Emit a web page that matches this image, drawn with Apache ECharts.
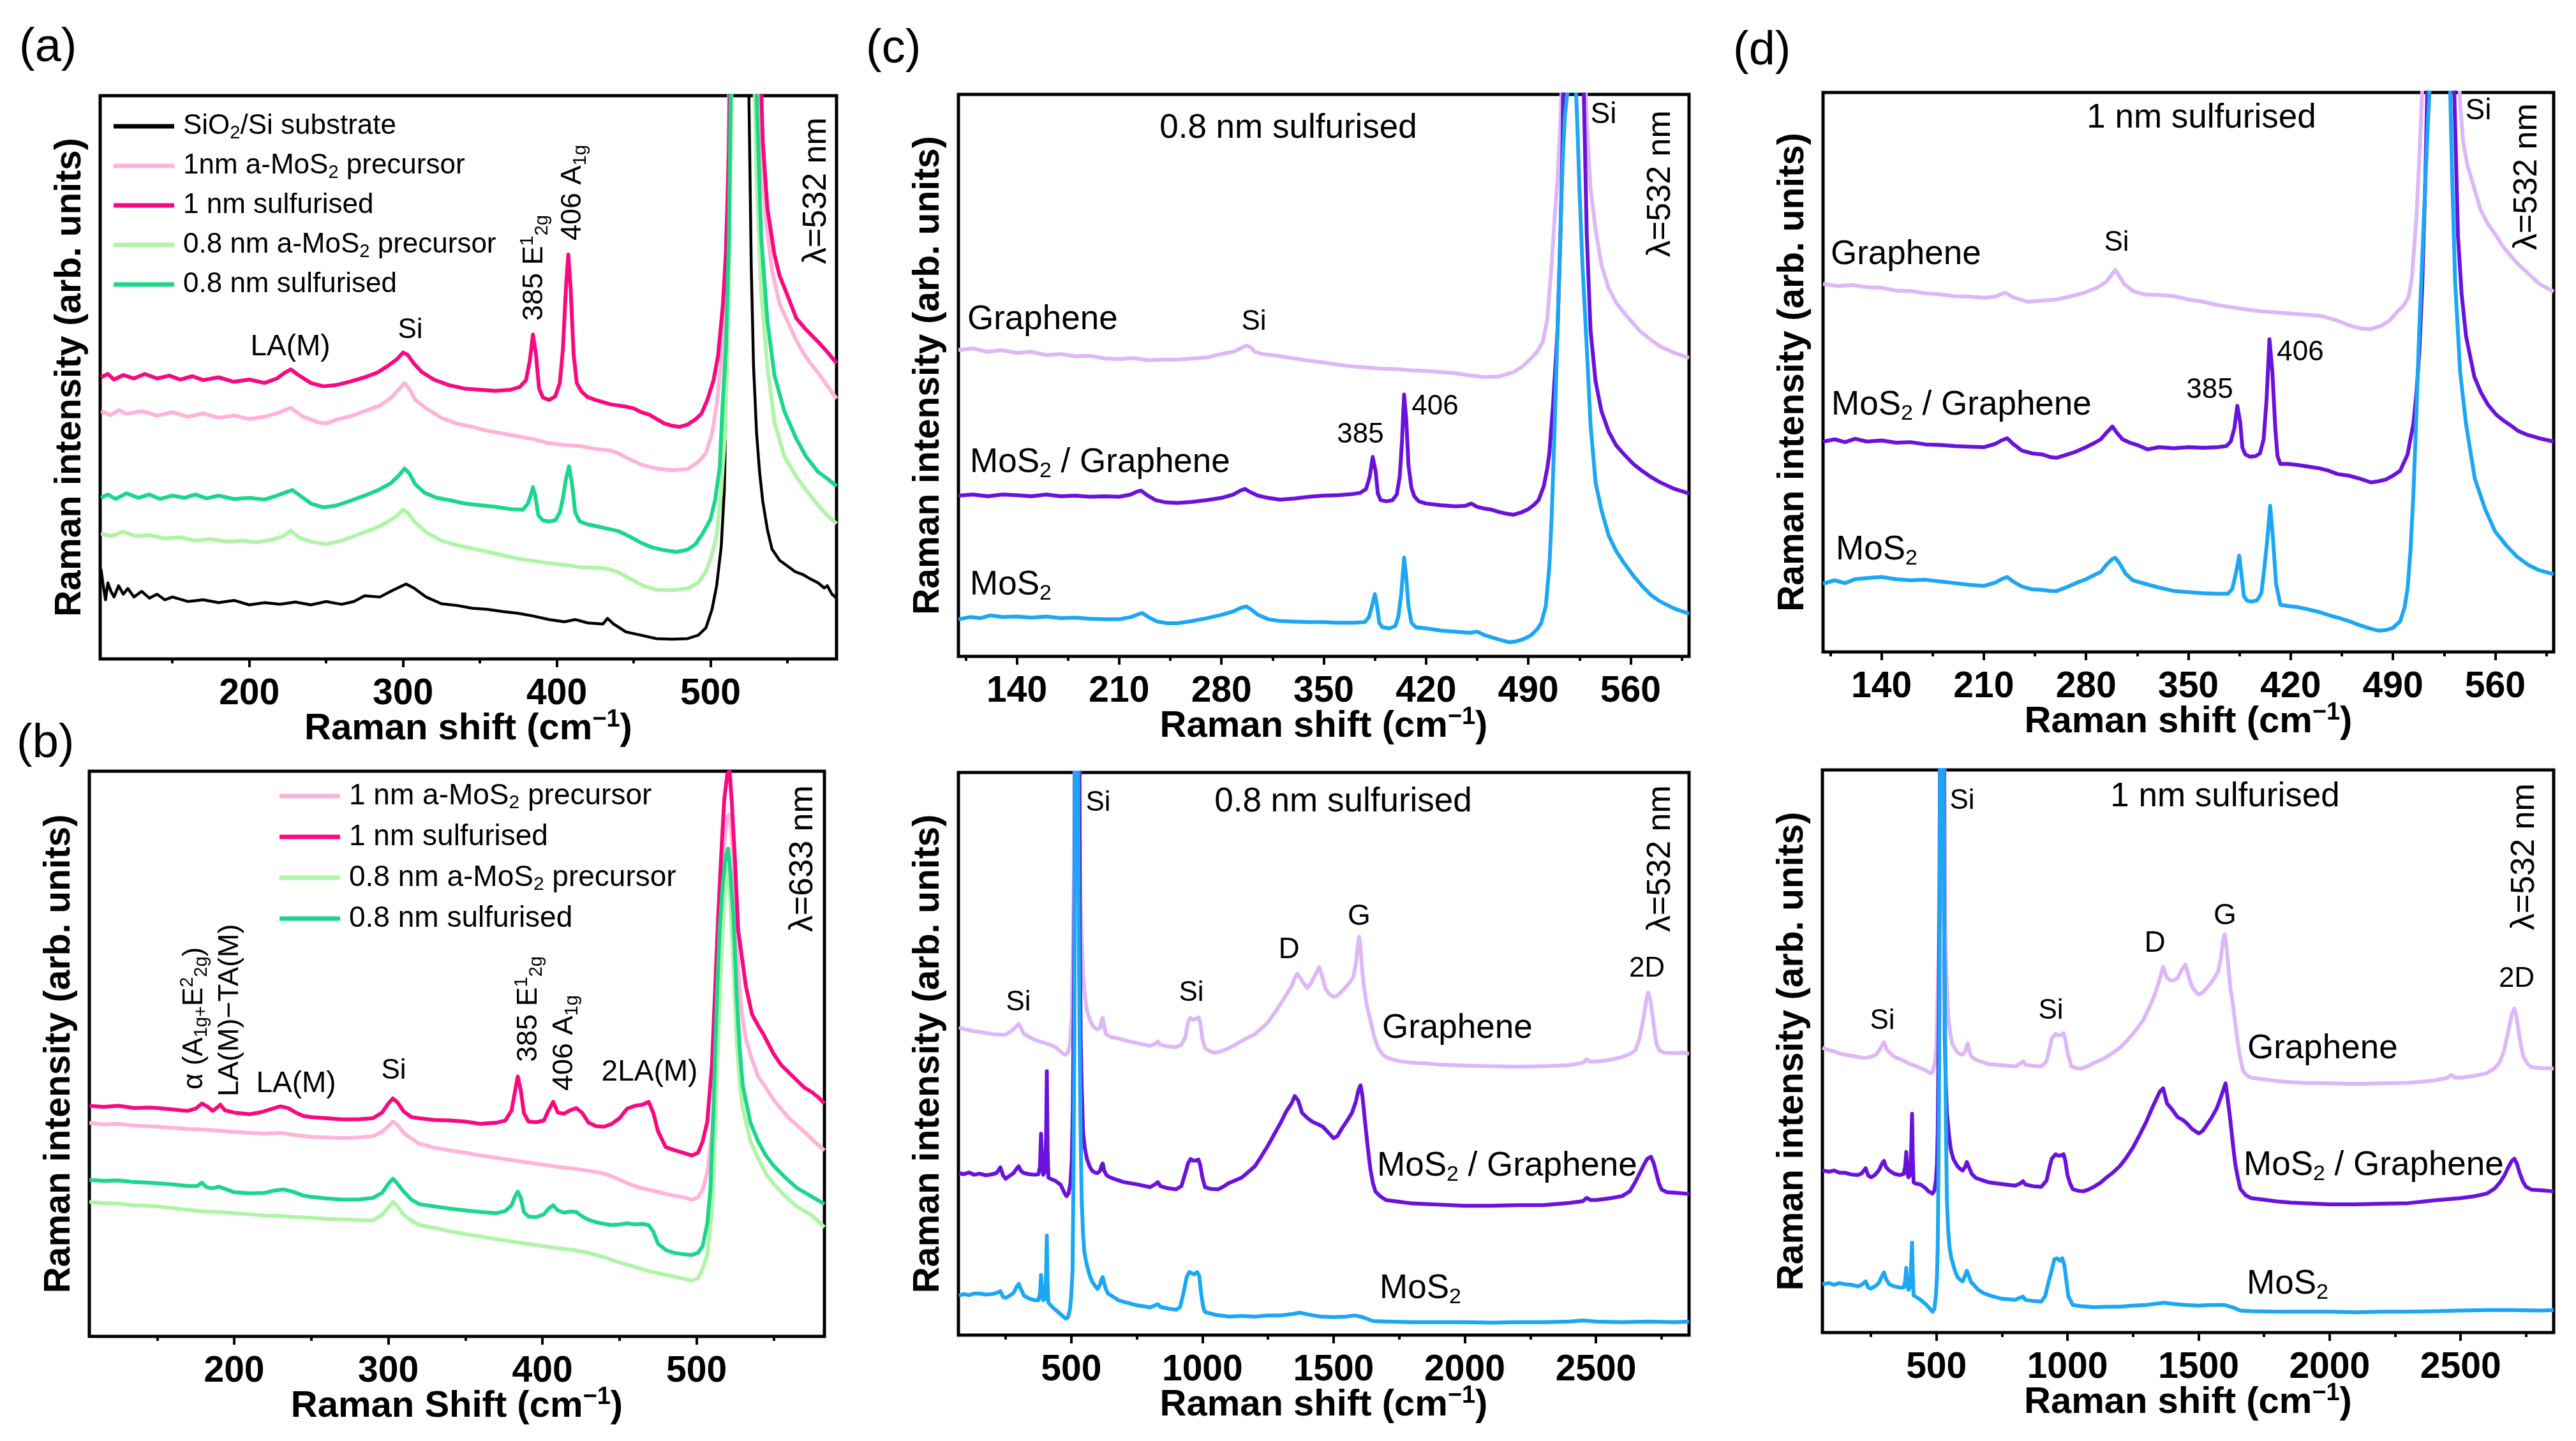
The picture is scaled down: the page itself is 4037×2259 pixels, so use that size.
<!DOCTYPE html>
<html><head><meta charset="utf-8">
<script src="https://cdn.jsdelivr.net/npm/echarts@6/dist/echarts.min.js"></script>
<style>html,body{margin:0;padding:0;background:#fff}#chart{width:4037px;height:2259px}</style>
</head><body><div id="chart"></div>
<script>
const FONT = '"Liberation Sans", Arial, Helvetica, sans-serif';

// ---------- tick values ----------
const ticksLow = [200, 300, 400, 500];
const minorLow = [150, 250, 350, 450, 550];
const ticksTop = [140, 210, 280, 350, 420, 490, 560];
const minorTop = [105, 175, 245, 315, 385, 455, 525, 595];
const ticksWide = [500, 1000, 1500, 2000, 2500];
const minorWide = [250, 750, 1250, 1750, 2250, 2750];

// ---------- legend names ----------
const namesA = ['SiO2/Si substrate', '1nm a-MoS2 precursor', '1 nm sulfurised', '0.8 nm a-MoS2 precursor', '0.8 nm sulfurised'];
const namesB = ['1 nm a-MoS2 precursor', '1 nm sulfurised', '0.8 nm a-MoS2 precursor', '0.8 nm sulfurised'];
const namesC = ['Graphene', 'MoS2 / Graphene', 'MoS2'];

// ---------- panel (a), lambda = 532 nm ----------
const a_substrate = [[103.5,16],[105,13],[106.5,10.5],[108,13.5],[110,12],[112,11],[115,13],[118,11.5],[121,12.5],[125,11],[130,12],[135,10.8],[140,11.5],[145,10.5],[150,11],[160,10.2],[170,10.5],[180,10],[190,10.4],[200,9.6],[210,10],[220,9.7],[230,10.1],[240,9.6],[250,10.2],[260,9.7],[268,10.2],[275,11.2],[285,11],[292,12],[298,12.8],[302,13.3],[307,12.6],[315,11],[325,9.8],[335,9.5],[345,9],[355,8.8],[365,8.4],[375,8.1],[385,7.6],[395,7],[405,6.6],[412,7],[420,6.4],[430,6.2],[433,7.2],[437,6.2],[445,4.8],[455,4.2],[465,3.6],[475,3.5],[485,3.6],[492,4.2],[497,5.5],[501,8.8],[504,13],[507,20],[509,30],[510.5,50],[512,70],[513.5,95],[515,140],[518,250],[521,300],[523.5,150],[525,100],[526.5,70],[528,52],[530,40],[532,33],[534,28],[537,23],[540,19.5],[545,17.5],[550,16.5],[555,15.5],[560,15],[565,14.2],[570,13.5],[574,12.6],[576,13],[579,11.5],[582,10.8]];
const a_prec1 = [[103.5,44],[110,43.3],[115,44.2],[120,43.5],[130,44],[140,43.2],[150,43.8],[160,43],[170,43.6],[180,42.8],[190,43.2],[200,42.6],[210,43],[220,43.8],[227,44.6],[235,43],[245,42],[250,41.8],[258,42.6],[265,43],[275,44],[285,45],[292,46.3],[297,47.8],[301,49],[304,48],[308,46],[315,44.5],[325,42.8],[335,41.8],[345,41.2],[355,40.5],[365,40],[375,39.5],[385,39],[395,38.3],[405,38],[415,37.8],[425,37.3],[435,37],[440,36.5],[447,35.5],[455,34.5],[465,33.8],[475,33.5],[485,33.7],[492,35],[497,36.5],[501,40],[504,45],[507,53],[509,62],[511,80],[513,120],[516,220],[522,300],[528,200],[531,110],[533,90],[536,78],[540,69],[545,63],[550,60],[555,57],[560,54.5],[565,52.5],[570,50.8],[576,48.5],[582,46.2]];
const a_sulf1 = [[103.5,50],[108,50.6],[112,49.6],[118,50.4],[125,49.8],[132,50.6],[140,49.8],[148,50.3],[155,49.6],[163,50.2],[170,49.5],[180,50],[190,49.2],[200,49.6],[210,49],[218,49.8],[223,50.8],[227,51.4],[232,50.4],[240,49],[248,48.4],[256,48.6],[265,49.2],[275,50],[283,50.8],[290,52],[296,53.2],[300,54.4],[303,54],[307,52.5],[312,51],[320,49.6],[330,48.6],[340,48],[350,47.8],[360,47.6],[370,47.8],[376,48.3],[380,49.5],[382.5,53],[384.5,57.6],[386.5,54],[388.5,48],[391,46.4],[395,46],[399,46.6],[402,49],[404,55],[406,66],[407.5,71.8],[409,66],[411,54],[413,49],[416,47.5],[420,46.5],[425,46],[430,45.6],[435,45.2],[440,45],[445,44.8],[450,44.5],[455,43.8],[460,43.4],[465,42.6],[470,41.8],[475,41.4],[480,41.2],[485,41.6],[490,42.5],[494,43.5],[498,46],[502,49.5],[505,54],[508,62.6],[510,72],[512,90],[514,130],[517,220],[525,300],[530,200],[532,110],[534,92],[537,80],[541.6,71.8],[545,68],[548.7,65.5],[555.8,60.5],[562,58.5],[570,56.3],[576,54.5],[582,52.5]];
const a_prec08 = [[103.5,22.3],[110,21.8],[118,22.6],[126,21.8],[135,22],[145,21.4],[155,21.6],[165,21],[175,21.3],[185,20.8],[195,21],[205,20.7],[215,21.2],[222,21.8],[227,22.8],[232,21.6],[240,20.8],[250,20.4],[260,21],[270,22],[280,23],[288,24],[295,25.2],[300,26.5],[303,26],[307,24.5],[315,22.5],[325,21],[335,20.2],[345,19.6],[355,19],[365,18.4],[375,17.8],[385,17.4],[395,17],[405,16.7],[415,16.3],[425,16.2],[433,16],[440,15.4],[448,14.2],[456,13],[465,12.3],[475,12.2],[485,12.5],[492,13.5],[497,15.5],[501,18.5],[504,22],[507,30],[509.5,40],[511.5,60],[513.5,95],[516,200],[521,300],[526,200],[528,110],[530,85],[533,65],[537,52],[541.6,42],[548,36],[555.8,32.4],[562,30],[570,27.3],[576,25.5],[582,24]];
const a_sulf08 = [[103.5,28.6],[108,29.2],[113,28.4],[120,29.4],[128,28.6],[135,29.2],[142,28.4],[150,29],[158,28.6],[165,29.2],[172,28.5],[180,29],[190,28.4],[200,28.6],[210,28.3],[218,29],[224,29.6],[228,30],[233,29],[240,27.6],[248,26.9],[256,27.2],[265,28],[275,29],[284,30],[292,31.2],[297,32.5],[301,33.8],[304,33],[308,31],[314,29.5],[322,28.6],[330,28.2],[340,27.6],[350,27.3],[360,27],[370,26.6],[378,26.5],[381,27.5],[383,29],[384.5,30.5],[386,29],[388,25.5],[391,24.6],[395,24.4],[399,24.6],[402,26],[404,28.5],[406,32],[408,34.2],[410,31],[412,26],[415,24.4],[420,23.9],[427,23.5],[435,23],[440,22.7],[447,21.8],[455,20.6],[462,19.8],[470,19.3],[478,19],[485,19.4],[490,20.3],[495,22.3],[500,24.8],[503,28.2],[506,34],[508,45.8],[510,55],[512,75],[514,120],[517,220],[523,300],[528,150],[530,100],[533,75],[537,60],[541.6,50.4],[548,44],[555.8,39.1],[562,36],[570,33.2],[576,32],[582,30.7]];

// ---------- panel (b), lambda = 633 nm ----------
const b_prec1 = [[106,37.8],[115,37.5],[125,37.6],[135,37.3],[145,37.2],[150,37.1],[160,36.9],[170,36.7],[180,36.6],[190,36.4],[200,36.2],[210,36],[220,35.9],[230,36],[240,35.6],[250,35.3],[260,35.2],[270,35.1],[280,35.2],[290,35.4],[296,36.2],[300,37.2],[303,38],[306,37.4],[310,36],[315,35],[320,34.1],[330,33.4],[340,32.9],[350,32.5],[360,32],[370,31.6],[380,31.2],[390,30.8],[400,30.4],[410,30],[420,29.7],[430,29.3],[440,28.8],[448,28],[455,27.1],[462,26.4],[470,25.9],[480,25.2],[490,24.7],[497,24.2],[501,24.6],[504,26],[507,29],[510,36],[512,44.4],[514,58],[516,72],[518,87],[520,92],[521.5,92.4],[523,88],[525,78],[527,65],[529.5,57],[532,52.6],[536,49],[540,46],[545,44],[550,41.9],[555,40.2],[560,38.6],[565,37.4],[570,36.2],[576,34.6],[583,32.9]];
const b_sulf1 = [[106,40.8],[115,40.6],[125,40.8],[135,40.4],[145,40.5],[150,40.4],[158,40.2],[165,40],[170,39.9],[175,40.3],[179,41.2],[183,40.6],[186,39.9],[189,40.5],[191,41],[194,40],[200,39.6],[210,39.3],[218,39.7],[225,40.3],[230,40.7],[235,40.4],[240,39.6],[245,39],[250,38.8],[260,38.6],[270,38.4],[280,38.4],[290,38.6],[296,39.6],[300,41.2],[303,42.1],[306,41.4],[310,39.8],[315,38.8],[320,38.6],[330,38.3],[340,38.2],[350,38],[360,37.6],[370,37.8],[376,38.2],[380,40],[382,43],[384,46],[386,43.5],[388,39.5],[391,38],[396,37.9],[401,38.2],[404,40],[407,41.5],[410,39.6],[414,39.4],[418,40],[422,40.4],[426,39.5],[430,37.8],[435,37.2],[440,37.1],[445,37.6],[450,38.6],[455,40.3],[460,40.8],[465,41],[469,41.5],[472,39.5],[475,36.3],[480,33.5],[485,33],[490,32.6],[497,32],[501,32.5],[504,34.5],[507,38],[510,48],[512,60.8],[514,74],[516,85],[518,95],[520,99.5],[521.5,100],[523,94],[525,84],[527,72],[529.5,67],[532,62],[536,57],[540,55],[543.5,53.4],[550,50],[555,48],[561,46.4],[570,44],[575,43.2],[579,42.3],[583,41.2]];
const b_prec08 = [[106,23.8],[115,23.6],[125,23.5],[135,23.2],[145,23.1],[150,23],[160,22.7],[170,22.4],[180,22.1],[190,22],[200,21.8],[210,21.6],[220,21.4],[230,21.3],[240,21.1],[250,21],[260,20.8],[270,20.7],[280,20.6],[290,20.5],[296,21.5],[300,22.8],[303,23.8],[306,23],[310,21.5],[315,20.5],[320,19.7],[330,19.2],[340,18.6],[350,18.1],[360,17.7],[370,17.2],[380,16.8],[390,16.4],[400,16],[410,15.6],[420,15.3],[430,14.8],[440,14],[450,13.1],[460,12.3],[470,11.5],[480,10.9],[490,10.3],[497,9.9],[501,10.3],[504,12],[507,14.5],[510,22],[512,36],[514,52],[516,66],[518,77],[519.5,82],[520.5,83],[522,77],[524,65],[526,52.6],[528,45],[530,40.3],[535,34.5],[540,31.5],[545,28.8],[550,27],[555,25.5],[560,24.2],[565,23],[570,22.2],[575,21.4],[583,19.3]];
const b_sulf08 = [[106,27.7],[115,27.5],[125,27.6],[135,27.3],[145,27.2],[150,27.1],[160,26.9],[170,26.6],[176,26.6],[179,27.2],[182,26.4],[186,26.2],[190,26.5],[195,26],[200,25.5],[210,25.3],[220,25.4],[226,25.8],[232,26],[238,25.6],[245,24.9],[250,24.7],[260,24.4],[270,24.2],[280,24.2],[290,24.5],[296,25.4],[300,27],[303,27.9],[306,27],[310,25.6],[315,24.2],[320,23.4],[330,23],[340,22.6],[350,22.3],[360,22],[370,21.8],[376,22.2],[380,23.2],[382,24.6],[384,25.6],[386,24.5],[388,22],[391,21.2],[396,21.1],[401,21.6],[404,22.6],[407,23.2],[410,22.3],[414,21.9],[418,22.1],[422,22],[426,21.2],[430,20.6],[435,20.2],[440,19.9],[445,19.7],[450,19.8],[455,20],[460,19.8],[465,19.9],[469,19.7],[472,18.5],[475,16.4],[480,15.3],[485,14.8],[490,14.6],[497,14.4],[501,14.8],[504,16],[507,20],[509,26],[511,40],[513,58],[515,72],[517,80],[519,85],[520.5,86.3],[522,82],[524,74],[526,60.8],[528,51],[530,44.4],[535,37.8],[540,34.5],[545,32],[550,30.2],[555,28.8],[560,27.5],[565,26.3],[570,25.5],[575,24.7],[583,23.4]];

// ---------- panel (c) top, 0.8 nm sulfurised ----------
const c_gr = [[100,54.5],[110,54.8],[120,54.2],[130,54.5],[140,54],[150,54.2],[160,53.6],[170,53.8],[180,53.4],[190,53.5],[200,53],[210,52.9],[220,53.1],[230,52.7],[240,52.8],[250,52.8],[260,53],[270,53.2],[280,53.8],[288,54.2],[293,54.8],[297,55.3],[300,55],[303,54.2],[308,53.8],[315,53.6],[320,53.4],[330,53],[340,52.6],[350,52.3],[360,51.9],[370,51.6],[380,51.4],[390,51.2],[400,51.1],[410,50.9],[420,50.8],[430,50.6],[440,50.4],[450,50],[460,49.7],[470,49.8],[480,50.6],[486,51.6],[491,52.8],[496,54.2],[500,56],[503,60],[506,70],[508,78],[510,85],[512,95],[514,110],[518,200],[524,200],[528,110],[530,95],[532.6,83.2],[536,76],[540,69.7],[545,65.5],[550,63],[555,61.3],[560,59.8],[566,58],[574,56.3],[580,55.2],[590,54],[600,53.1]];
const c_mg = [[100,28.6],[110,28.8],[120,28.5],[130,28.8],[140,28.7],[150,28.5],[160,28.8],[170,28.5],[180,28.6],[190,28.4],[200,28.5],[210,28.4],[218,28.8],[222,29.3],[225,29.5],[229,28.7],[235,27.8],[242,27.4],[250,27.3],[260,27.5],[270,27.8],[280,28.2],[288,28.8],[293,29.5],[296,29.8],[300,29.2],[305,28.6],[312,28.2],[320,27.9],[330,28.1],[340,28.4],[350,28.6],[360,28.7],[370,28.9],[375,29.1],[379,29.8],[381.5,32],[383.5,35.5],[385.5,33],[387,29],[389,27.8],[393,27.6],[397,27.8],[400,28.8],[402,32],[403.5,38],[405,46.6],[406.5,42],[408,34],[410,30],[412,28.5],[415,27.6],[420,27.2],[430,26.9],[440,26.7],[447,26.8],[451,27.2],[455,26.6],[460,26.3],[465,26.1],[470,25.7],[475,25.4],[480,25.2],[485,25.6],[490,26.2],[494,27],[497,27.8],[500.6,30.3],[503,33.5],[504.4,36.1],[507,45],[510,58],[512,75],[513.5,92],[516,150],[521,200],[526,150],[528,100],[530,75],[532.6,58],[536,49],[540,43.7],[545,40],[550,37.6],[555,36.1],[562,34.2],[568,33],[574,31.9],[580,31],[590,29.8],[600,29]];
const c_mo = [[100,6.6],[108,7],[115,6.8],[122,7.3],[130,7],[140,7.1],[150,6.9],[160,7.1],[170,6.8],[180,6.9],[190,6.7],[200,6.6],[210,6.6],[218,7],[223,7.5],[226,7.7],[230,7],[236,6.2],[243,5.9],[250,5.9],[260,6.3],[270,6.8],[280,7.4],[288,8],[293,8.6],[297,8.9],[300,8.4],[305,7.4],[312,6.6],[320,6.3],[330,6.2],[340,6.1],[350,6.1],[360,6],[370,6],[378,6.1],[381,7],[383,9],[385,11.1],[386.5,9],[388,6],[390,5.2],[395,5],[399,5.4],[401,7],[403,11],[405,17.6],[406.5,14],[408,9],[410,6],[413,5.2],[420,5],[430,4.6],[440,4.4],[450,4.2],[455,4.4],[460,3.8],[465,3.4],[470,3],[477,2.5],[482,2.7],[487,3.1],[492,3.8],[496,4.8],[498.8,5.9],[502,9],[504.4,16],[506,25],[508.1,41.2],[510,58],[511.9,74.8],[513.5,88],[515,96],[516.8,100.5],[519.4,110],[522,105],[523.5,95],[525,83.2],[527,70],[530,55],[532.6,41.2],[536,31],[540,26.1],[545,21.5],[550,18.8],[555,16.8],[562,14.3],[568,12.5],[574,10.9],[580,9.8],[590,8.5],[600,7.6]];

// ---------- panel (c) bottom, 0.8 nm sulfurised, wide range ----------
const cb_gr = [[72,54.7],[90,54.4],[110,54.2],[130,54],[150,53.9],[175,53.7],[200,53.5],[225,53.4],[250,53.4],[270,54],[285,54.6],[300,55.3],[310,54.4],[320,53.5],[340,53],[360,52.5],[380,52.2],[400,51.9],[420,51.6],[440,51.2],[460,50.4],[475,49.8],[488,50.2],[496,52],[502,57],[507,70],[511,85],[514,120],[518,200],[526,200],[530,120],[533,90],[535,77.4],[540,70],[545,64.2],[552,60.5],[560,57.6],[570,56.2],[580,55.1],[590,54.6],[600,54.3],[610,54.6],[616,56],[620,56.4],[625,55],[632,53.5],[650,53],[680,52.7],[720,52.2],[750,51.9],[780,51.6],[800,51.4],[820,51.8],[830,52.2],[840,51.6],[870,51.3],[900,51.2],[920,51.6],[935,53],[945,55.6],[955,56.4],[965,56],[975,56.2],[985,56.5],[992,55.5],[1000,52.7],[1010,51],[1030,50.4],[1050,50.2],[1075,50.5],[1100,51],[1125,51.6],[1150,52.3],[1175,52.9],[1200,53.5],[1225,54.5],[1250,55.6],[1265,56.6],[1280,57.6],[1300,59],[1320,60.5],[1340,62],[1352,63.5],[1362,64.2],[1372,63.6],[1385,62.6],[1400,61.7],[1415,62.6],[1430,64],[1445,65.4],[1455,64],[1470,61.5],[1485,60.6],[1500,60.1],[1515,60.4],[1530,61],[1545,61.8],[1560,62.6],[1575,63.6],[1585,66],[1592,69],[1597,70.8],[1602,69.5],[1607,66],[1614,62.6],[1625,59],[1640,56],[1655,53],[1670,51],[1685,50],[1700,49.4],[1725,49],[1750,48.7],[1800,48.4],[1850,48.3],[1900,48.1],[1950,48],[2000,47.9],[2100,47.8],[2200,47.7],[2300,47.8],[2400,48],[2450,48.4],[2465,49],[2480,48.6],[2500,48.6],[2550,48.9],[2600,49.4],[2630,50],[2650,50.6],[2665,52.5],[2680,56],[2692,59.5],[2700,60.9],[2708,59.5],[2718,56],[2730,51.9],[2742,50.6],[2760,50.2],[2800,50.1],[2830,50.2],[2855,50]];
const cb_mg = [[72,28.8],[90,28.6],[110,28.9],[130,28.5],[150,28.7],[175,28.4],[200,28.6],[215,28.8],[230,29.8],[240,28.4],[250,27.8],[265,28.3],[280,28.8],[292,29.6],[300,30],[308,29.2],[320,28.8],[340,28.6],[360,28.5],[375,28.6],[381,30],[385,35.8],[389,30],[393,28.5],[400,29],[404,35],[407,46.9],[410,33],[413,28],[420,27.8],[440,27.4],[460,26.7],[475,25.2],[482,24.7],[490,25.2],[497,27],[502,31],[506,40],[510,60],[513,85],[516,150],[524,200],[530,120],[533,70],[536,52.7],[540,44],[545,36.2],[552,33.2],[560,31.3],[570,30],[580,29.2],[590,28.9],[600,28.8],[610,29.2],[616,30.2],[620,30.5],[626,29.2],[635,28.4],[650,28],[680,27.5],[700,27.2],[750,26.8],[800,26.3],[820,26.8],[830,27.2],[840,26.5],[870,26.1],[900,25.9],[920,26.5],[935,28.8],[945,30.5],[955,31.3],[965,31],[975,31],[985,31.2],[992,30.2],[1000,28],[1010,26.3],[1030,26],[1060,25.9],[1080,26.4],[1100,27],[1125,27.5],[1150,28],[1175,29],[1200,30],[1225,31.8],[1250,33.7],[1275,35.8],[1300,37.9],[1320,39.8],[1340,41.2],[1352,42.5],[1365,41.7],[1380,39.5],[1400,38.6],[1420,37.9],[1440,37.5],[1460,37],[1480,36],[1500,35],[1515,35.4],[1530,36.6],[1550,38],[1570,39.5],[1585,41.5],[1595,43.6],[1603,44.4],[1610,42.5],[1620,37.9],[1630,33.5],[1640,29.6],[1650,27],[1660,25.5],[1680,24.6],[1700,24],[1750,23.7],[1800,23.4],[1850,23.3],[1900,23.2],[2000,23],[2100,23],[2200,23.1],[2300,23.1],[2400,23.5],[2450,23.8],[2465,24.4],[2480,24],[2500,24],[2550,24.3],[2600,24.7],[2630,25.6],[2650,27.2],[2665,28.6],[2680,30],[2695,31.3],[2710,31.7],[2720,30.6],[2730,28.8],[2740,27],[2750,25.9],[2770,25.4],[2800,25.3],[2855,25.1]];
const cb_mo = [[72,7],[90,7.3],[110,7.1],[130,7.4],[150,7.4],[175,7.2],[200,7.3],[215,7.5],[230,7.8],[240,6.8],[250,6.6],[265,7],[280,7.5],[292,8.6],[300,9.1],[308,8.2],[320,7],[340,6.5],[360,6.2],[375,6.2],[381,7.5],[385,10.7],[389,7],[393,6.2],[400,6.4],[404,11],[407,17.7],[410,9],[413,5.8],[420,5.4],[430,4.9],[445,4.3],[460,3.7],[472,3.2],[480,2.9],[488,3.2],[495,4.5],[500,7],[505,11.5],[509,30],[512,52.7],[514,100],[517,200],[523,200],[526,100],[529,70],[532,52.7],[536,35],[540,23.9],[545,18],[550,14.8],[557,13],[565,11.5],[572,10.4],[580,9.5],[590,8.8],[600,8.2],[610,9],[616,10],[620,10.3],[626,9.2],[632,8.2],[640,7.4],[660,6.8],[680,6.2],[710,5.8],[750,5.3],[780,5.1],[800,4.9],[820,5.3],[830,5.5],[840,5],[870,4.7],[900,4.5],[915,5],[928,7.5],[940,10.3],[950,11.2],[960,11],[970,10.8],[980,11.2],[988,10.5],[995,7.5],[1003,5],[1010,4.1],[1050,3.6],[1100,3.3],[1150,3.4],[1200,3.3],[1250,3.5],[1300,3.5],[1350,3.8],[1370,4],[1400,3.7],[1450,3.3],[1500,3.2],[1550,3.3],[1580,3.5],[1610,3.2],[1650,2.5],[1700,2.4],[1800,2.3],[1900,2.3],[2000,2.3],[2100,2.2],[2200,2.3],[2300,2.3],[2400,2.4],[2450,2.6],[2500,2.4],[2600,2.3],[2700,2.4],[2800,2.3],[2855,2.4]];

// ---------- panel (d) top, 1 nm sulfurised ----------
const d_gr = [[100,65.8],[110,65.4],[120,65.6],[130,65.2],[140,65.1],[150,64.6],[160,64.5],[170,64.1],[180,63.9],[190,63.6],[200,63.5],[210,63.3],[218,63.5],[222,64],[225,64.2],[230,63.4],[240,62.6],[250,62.8],[260,63],[270,63.6],[280,64.3],[288,65.2],[294,66.2],[298,67.6],[300,68.3],[302,67.5],[306,65.8],[312,64.5],[320,63.9],[330,63.8],[340,63.6],[350,63],[360,62.6],[370,62],[380,61.6],[390,61.2],[400,60.9],[410,60.7],[420,60.5],[430,60.3],[440,60.1],[450,59.4],[460,58.4],[468,57.8],[475,57.7],[482,58.3],[488,59.3],[493.2,60.9],[497,61.8],[500.7,63.4],[503,67],[506.3,78.6],[508,88],[510,100],[512,130],[518,200],[530,200],[534,110],[536,98],[538,91.2],[541,87],[545.7,82.8],[550,79],[555,76.5],[560.7,74.4],[566,72.2],[570,71],[575.7,69.3],[582,67.8],[590,65.8],[600,64.4]];
const d_mg = [[100,37.6],[108,38],[115,37.5],[122,38.1],[130,37.6],[140,37.8],[150,37.4],[160,37.5],[170,37.1],[180,37],[190,36.8],[200,36.7],[210,36.6],[218,37.2],[222,37.8],[226,38.2],[230,37.2],[236,36],[243,35.5],[250,35.3],[256,34.8],[260,34.7],[266,35.2],[273,35.8],[280,36.6],[286,37.4],[290,38],[294,39.2],[298,40.3],[301,39.2],[305,38],[310,37.4],[315,37],[322,36.2],[330,36.6],[340,36.4],[350,36.6],[360,36.5],[370,36.6],[376,36.8],[379,37.6],[381.5,40],[383.5,44],[385.5,41],[387,36.5],[389,35.3],[392,34.9],[396,35],[399,35.5],[401.5,38],[403.5,45],[405.5,55.9],[407.5,50],[409.5,40],[411,35],[413,33.6],[418,33.6],[425,33.4],[430,33.2],[435,33],[440,32.8],[446,32.4],[452,31.8],[460,31.5],[467,31],[475,30.3],[480,30.5],[485,30.8],[490,31.5],[495,32.4],[500,35.3],[504,40.8],[506,46],[508,53.4],[510,65],[512,82.8],[513.5,100],[516,150],[524,200],[530,130],[532,100],[534.5,74.4],[537,64],[540,56.5],[545.7,49.2],[550,46.5],[555,44.2],[560.7,42.4],[566,41.3],[570,40.6],[575.7,39.5],[582,38.8],[590,38.2],[600,37.6]];
const d_mo = [[100,12.2],[108,12.8],[115,12.3],[122,13],[130,13.2],[140,13.4],[150,13],[160,12.8],[170,12.9],[180,12.6],[190,12.3],[200,12],[210,11.8],[218,12.4],[222,13],[226,13.4],[230,12.6],[236,11.7],[243,11.2],[250,11.1],[256,10.9],[260,10.9],[266,11.5],[273,12.3],[280,13],[286,13.8],[290,14.3],[294,15.6],[298,16.6],[300,16.8],[303,15.8],[307,14],[312,12.8],[320,12.2],[330,11.5],[340,10.9],[350,10.7],[360,10.5],[370,10.4],[377,10.4],[380,11.2],[382.5,14],[384.8,17.2],[386.5,13.5],[388,10],[390,9.2],[393,9],[397,9.2],[400,10.5],[402,15],[404,20],[406,26.1],[408,20],[410,12.2],[413,8.4],[418,8.2],[425,8],[432,7.6],[440,7.1],[447,6.5],[454,6],[460,5.5],[467,4.8],[474,4.2],[480,3.8],[485,3.9],[490,4.3],[495,5.5],[498,8],[500,11.3],[502,18],[504,28.2],[506,42],[508,57.6],[510,70],[512,82.8],[514,95],[516,105],[522,130],[528.8,105],[530.5,85],[532.6,66],[536,50],[540,40.8],[546,31],[553,25.6],[560,21.5],[568,18.9],[575,17],[583,15.5],[590,14.6],[600,13.9]];

// ---------- panel (d) bottom, 1 nm sulfurised, wide range ----------
const db_gr = [[65,50.6],[90,50.2],[110,50],[130,49.6],[150,49.4],[175,49.2],[200,49],[225,48.8],[250,49],[270,49.4],[285,50.4],[300,51.6],[310,50.4],[320,49.8],[340,49],[360,48.6],[380,48.2],[400,47.7],[420,47.4],[440,47],[460,46.6],[475,46.1],[485,46.3],[494,47.8],[500,51],[505,60.5],[509,72],[512,85.2],[515,120],[519,200],[526,200],[530,110],[533,80],[535,68.7],[540,61],[545,56.4],[552,53.4],[560,51.4],[570,50.5],[580,49.8],[590,49.5],[600,49.4],[610,50],[616,51],[620,51.4],[626,50],[635,49],[650,48.5],[680,48],[700,47.7],[750,47.5],[800,47.3],[820,47.8],[830,48.2],[840,47.6],[870,47.4],[900,47.3],[920,48.2],[932,50.5],[940,52.3],[955,53.1],[965,52.8],[975,52.9],[985,53.2],[992,52],[1000,49.8],[1015,47.3],[1035,47],[1050,46.9],[1075,47.3],[1100,47.9],[1125,48.4],[1150,49],[1175,49.8],[1200,50.6],[1225,51.8],[1250,53.1],[1270,54.3],[1290,55.6],[1310,57.6],[1330,59.7],[1350,62.5],[1365,65],[1378,63.2],[1390,62.6],[1405,62.6],[1420,63],[1435,64.4],[1450,65.4],[1462,63.4],[1475,61.5],[1490,60.5],[1500,60.1],[1515,60.4],[1530,61.2],[1545,62],[1560,63],[1575,64.2],[1585,66.5],[1593,69.5],[1600,70.8],[1606,69],[1615,64.5],[1622,61],[1630,58.8],[1640,55],[1650,51.4],[1660,48.6],[1670,46.5],[1685,45.7],[1700,45.3],[1750,45],[1800,44.7],[1850,44.5],[1900,44.4],[2000,44.3],[2100,44.2],[2200,44.3],[2300,44.4],[2400,44.8],[2450,45.3],[2465,45.8],[2480,45.3],[2500,45.3],[2550,45.6],[2600,46.1],[2630,47],[2650,48.1],[2665,50],[2680,53.1],[2695,56.5],[2705,57.6],[2713,56.2],[2720,54],[2730,51],[2740,49],[2755,47.8],[2770,47.2],[2800,47],[2830,47],[2855,46.9]];
const db_mg = [[65,28.8],[90,28.6],[110,28.8],[130,28.4],[150,28.4],[175,28.1],[200,28],[215,28.3],[230,29.2],[240,27.9],[250,27.6],[265,28],[280,28.8],[292,30],[300,30.5],[308,29.4],[320,28.8],[340,28.2],[360,28],[375,28.2],[381,29.5],[385,32.1],[389,28.5],[393,27.6],[400,28],[404,33],[407,38.9],[410,31],[413,26.7],[420,26.5],[440,26.3],[460,25.6],[470,25.1],[485,24.7],[492,25.2],[498,27],[502,30],[505,35.8],[509,55],[512,77],[515,130],[520,200],[526,200],[529,80],[532,52.3],[536,44],[540,39.1],[547,35.5],[555,32.5],[565,30.8],[580,29.6],[590,29.1],[600,28.8],[610,29.5],[616,30.3],[620,30.5],[626,29.2],[635,28.2],[650,27.5],[680,27],[700,26.7],[750,26.4],[800,26.1],[820,26.5],[830,26.9],[840,26.3],[870,26],[900,25.9],[920,27],[932,29.5],[940,30.9],[955,31.7],[965,31.4],[975,31.5],[985,31.7],[992,30.5],[1000,28],[1010,26.5],[1020,25.5],[1040,25.2],[1060,25.1],[1080,25.4],[1100,25.9],[1125,26.6],[1150,27.6],[1175,28.5],[1200,29.6],[1225,31.1],[1250,32.9],[1275,35.1],[1300,37.4],[1320,39.6],[1340,41.6],[1352,42.8],[1365,43.4],[1380,40.7],[1400,39.6],[1420,38.3],[1440,37.8],[1455,37.2],[1475,36.2],[1500,35.4],[1515,35.8],[1530,36.8],[1550,38.2],[1570,39.9],[1585,41.8],[1595,43.2],[1603,44.3],[1610,42],[1620,38.3],[1630,34],[1640,30],[1650,27.5],[1660,25.5],[1680,24.4],[1700,23.9],[1750,23.6],[1800,23.3],[1850,23.1],[1900,23],[2000,22.8],[2100,22.8],[2200,22.9],[2300,23],[2400,23.5],[2450,23.7],[2500,23.9],[2550,24.2],[2600,24.7],[2630,25.6],[2650,26.7],[2668,28],[2680,29.2],[2695,30.5],[2705,30.9],[2715,30],[2725,28.4],[2738,26.8],[2750,25.9],[2770,25.4],[2800,25.3],[2855,25.1]];
const db_mo = [[65,8.6],[90,8.8],[110,8.5],[130,8.8],[150,8.6],[175,8.5],[200,8.2],[215,8.5],[230,9.1],[240,8],[250,7.8],[265,8.2],[280,8.8],[292,10],[300,10.7],[308,9.5],[320,8.6],[340,8.2],[360,8],[375,8],[381,9.2],[385,11.5],[389,8.5],[393,7.6],[400,8],[404,12.5],[407,16],[410,10],[413,6.6],[420,6.4],[440,5.8],[460,5],[470,4.5],[485,3.7],[492,4.2],[498,6.5],[502,10],[505,15.2],[509,35],[512,60.5],[514,100],[517,200],[523,200],[526,100],[529,75],[532,60.5],[536,38],[540,23.5],[545,18],[550,15.2],[557,13.2],[565,11.9],[572,10.8],[580,9.9],[590,9.4],[600,9.1],[610,10.2],[616,11],[620,11.1],[626,9.8],[632,9],[640,8.6],[660,7.6],[680,7],[710,6.5],[750,6],[780,5.9],[800,5.8],[820,6.2],[830,6.4],[840,5.8],[870,5.6],[900,5.5],[915,6.5],[928,9],[940,11.1],[950,13],[960,13.2],[970,12.8],[980,13.2],[988,12],[995,9.5],[1003,6.5],[1020,4.9],[1050,4.7],[1100,4.5],[1150,4.6],[1200,4.6],[1250,4.8],[1300,4.9],[1350,5.2],[1370,5.3],[1400,5.1],[1450,4.9],[1500,4.8],[1550,4.9],[1600,4.9],[1630,4.5],[1660,3.9],[1700,3.8],[1800,3.7],[1900,3.7],[2000,3.7],[2100,3.6],[2200,3.7],[2300,3.7],[2400,3.8],[2500,3.9],[2600,4],[2700,4],[2800,3.9],[2855,4]];

// ---------- layout (pixels) ----------
const grids = [
  {left: 157, top: 150, width: 1154, height: 883},
  {left: 140, top: 1209, width: 1152, height: 886},
  {left: 1502, top: 148, width: 1145, height: 881},
  {left: 1502, top: 1211, width: 1145, height: 882},
  {left: 2857, top: 145, width: 1145, height: 877},
  {left: 2856, top: 1207, width: 1146, height: 882}
];
const axes = [
  {min: 103, max: 582, major: ticksLow, minor: minorLow, name: 'Raman shift (cm{sup|\u22121})'},
  {min: 106, max: 583, major: ticksLow, minor: minorLow, name: 'Raman Shift (cm{sup|\u22121})'},
  {min: 100, max: 600, major: ticksTop, minor: minorTop, name: 'Raman shift (cm{sup|\u22121})'},
  {min: 70, max: 2855, major: ticksWide, minor: minorWide, name: 'Raman shift (cm{sup|\u22121})'},
  {min: 100, max: 600, major: ticksTop, minor: minorTop, name: 'Raman shift (cm{sup|\u22121})'},
  {min: 65, max: 2855, major: ticksWide, minor: minorWide, name: 'Raman shift (cm{sup|\u22121})'}
];

const COL = {
  black: '#000000', ltPink: '#FFB3D9', pink: '#F8097F', ltGreen: '#AEF5A6', green: '#1BD68B',
  lav: '#DDB7F7', purple: '#6A12DC', blue: '#1CA7F5'
};

const seriesDefs = [
  [0, namesA[0], a_substrate, COL.black, 4.5],
  [0, namesA[1], a_prec1, COL.ltPink, 6],
  [0, namesA[2], a_sulf1, COL.pink, 6],
  [0, namesA[3], a_prec08, COL.ltGreen, 6],
  [0, namesA[4], a_sulf08, COL.green, 6],
  [1, namesB[0], b_prec1, COL.ltPink, 6],
  [1, namesB[1], b_sulf1, COL.pink, 6],
  [1, namesB[2], b_prec08, COL.ltGreen, 6],
  [1, namesB[3], b_sulf08, COL.green, 6],
  [2, namesC[0], c_gr, COL.lav, 6],
  [2, namesC[1], c_mg, COL.purple, 6],
  [2, namesC[2], c_mo, COL.blue, 6],
  [3, namesC[0], cb_gr, COL.lav, 6],
  [3, namesC[1], cb_mg, COL.purple, 6],
  [3, namesC[2], cb_mo, COL.blue, 6],
  [4, namesC[0], d_gr, COL.lav, 6],
  [4, namesC[1], d_mg, COL.purple, 6],
  [4, namesC[2], d_mo, COL.blue, 6],
  [5, namesC[0], db_gr, COL.lav, 6],
  [5, namesC[1], db_mg, COL.purple, 6],
  [5, namesC[2], db_mo, COL.blue, 6]
];

function richFor(size, bold) {
  const L = Math.round(size * 1.15);
  const h = Math.round(L - 0.53 * size);
  const fs = Math.round(size * 0.65);
  const w = bold ? 'bold' : 'normal';
  return {
    sub: {fontSize: fs, lineHeight: h, verticalAlign: 'bottom', fontFamily: FONT, fontWeight: w, color: '#000', fill: '#000'},
    sup: {fontSize: fs, lineHeight: h, verticalAlign: 'top', fontFamily: FONT, fontWeight: w, color: '#000', fill: '#000'}
  };
}

const xAxis = [], yAxis = [], grid = [];
grids.forEach((g, i) => {
  grid.push(Object.assign({show: true, borderColor: '#000', borderWidth: 5, backgroundColor: 'transparent', containLabel: false, outerBoundsMode: 'none'}, g));
  const ax = axes[i];
  xAxis.push({
    gridIndex: i, type: 'value', min: ax.min, max: ax.max, position: 'bottom',
    axisLine: {show: false}, splitLine: {show: false},
    axisTick: {show: true, customValues: ax.major, length: 13, lineStyle: {width: 4, color: '#000'}},
    axisLabel: {customValues: ax.major, margin: 27, fontSize: 57, fontWeight: 'bold', color: '#000', fontFamily: FONT,
      formatter: v => String(v)},
    name: ax.name, nameLocation: 'middle', nameGap: 77, nameMoveOverlap: false,
    nameTextStyle: {fontSize: 58, fontWeight: 'bold', color: '#000', fontFamily: FONT, lineHeight: 66,
      rich: {sup: {fontSize: 38, fontWeight: 'bold', fontFamily: FONT, lineHeight: 35, verticalAlign: 'top', color: '#000'}}}
  });
  xAxis.push({
    gridIndex: i, type: 'value', min: ax.min, max: ax.max, position: 'bottom',
    axisLine: {show: false}, splitLine: {show: false}, axisLabel: {show: false},
    axisTick: {show: true, customValues: ax.minor, length: 7, lineStyle: {width: 4, color: '#000'}}
  });
  yAxis.push({
    gridIndex: i, type: 'value', min: 0, max: 100,
    axisLine: {show: false}, axisTick: {show: false}, axisLabel: {show: false}, splitLine: {show: false},
    name: 'Raman intensity (arb. units)', nameLocation: 'middle', nameRotate: 90, nameGap: 18, nameMoveOverlap: false,
    nameTextStyle: {fontSize: 57, fontWeight: 'bold', color: '#000', fontFamily: FONT}
  });
});

const series = seriesDefs.map(([gi, name, data, color, w]) => ({
  type: 'line', name, data, xAxisIndex: gi * 2, yAxisIndex: gi,
  showSymbol: false, symbol: 'none', smooth: false, clip: true, silent: true,
  lineStyle: {width: w, color: color, join: 'round'}, itemStyle: {color: color},
  emphasis: {disabled: true}
}));

const legendFmt = n => n.replace(/MoS2/g, 'MoS{sub|2}').replace(/SiO2/g, 'SiO{sub|2}');
function legend(names, left, top, size, pitch) {
  const L = Math.round(size * 1.14);
  return {
    orient: 'vertical', left, top, padding: 0, itemGap: pitch - L, itemWidth: 95, itemHeight: 7,
    icon: 'rect', data: names, selectedMode: false, formatter: legendFmt,
    textStyle: {fontSize: size, fontFamily: FONT, color: '#000', lineHeight: L, padding: [0, 0, 0, 9],
      rich: richFor(size, false)}
  };
}

// ---------- annotations ----------
function T(text, x, y, size, opt) {
  opt = opt || {};
  const L = Math.round(size * 1.15);
  return {
    type: 'text', x: x, y: y, rotation: opt.rot ? Math.PI / 2 : 0, z: 100, silent: true,
    style: {text: text, fontSize: size, fontFamily: FONT, fontWeight: opt.bold ? 'bold' : 'normal', fill: '#000',
      align: opt.align || 'center', verticalAlign: 'middle', lineHeight: L, rich: richFor(size, opt.bold)}
  };
}
const R = {rot: true, align: 'left'};
const Lf = {align: 'left'};
const labels = [
  T('(a)', 30, 76, 74, Lf), T('(b)', 26, 1167, 74, Lf), T('(c)', 1357, 78, 74, Lf), T('(d)', 2716, 81, 74, Lf),
  // (a)
  T('LA(M)', 455, 544, 46), T('Si', 643, 518, 44),
  T('385 E{sup|1}{sub|2g}', 838, 503, 45, R), T('406 A{sub|1g}', 898, 377, 45, R),
  T('\u03bb=532 nm', 1280, 414, 52, R),
  // (b)
  T('\u03bb=633 nm', 1259, 1461, 52, R),
  T('\u03b1 (A{sub|1g+}E{sup|2}{sub|2g})', 305, 1708, 44, R),
  T('LA(M)\u2212TA(M)', 361, 1719, 45, R),
  T('LA(M)', 464, 1699, 46), T('Si', 617, 1679, 44),
  T('385 E{sup|1}{sub|2g}', 829, 1665, 45, R), T('406 A{sub|1g}', 885, 1710, 45, R),
  T('2LA(M)', 1018, 1681, 46),
  // (c) top
  T('0.8 nm sulfurised', 2019, 201, 53), T('Si', 2513, 180, 46), T('\u03bb=532 nm', 2603, 403, 52, R),
  T('Graphene', 1516, 501, 53, Lf), T('Si', 1965, 505, 44),
  T('MoS{sub|2} / Graphene', 1520, 725, 53, Lf), T('385', 2132, 682, 44), T('406', 2249, 638, 44),
  T('MoS{sub|2}', 1520, 917, 53, Lf),
  // (c) bottom
  T('Si', 1596, 1572, 44), T('Si', 1721, 1259, 44), T('0.8 nm sulfurised', 2105, 1257, 53),
  T('\u03bb=532 nm', 2603, 1461, 52, R), T('G', 2130, 1437, 46), T('D', 2020, 1489, 46),
  T('Si', 1867, 1557, 44), T('2D', 2581, 1519, 44),
  T('Graphene', 2166, 1612, 53, Lf), T('MoS{sub|2} / Graphene', 2158, 1828, 53, Lf), T('MoS{sub|2}', 2162, 2020, 53, Lf),
  // (d) top
  T('1 nm sulfurised', 3450, 185, 53), T('Si', 3884, 174, 46), T('\u03bb=532 nm', 3961, 392, 52, R),
  T('Graphene', 2869, 399, 53, Lf), T('Si', 3317, 381, 44),
  T('MoS{sub|2} / Graphene', 2870, 635, 53, Lf), T('385', 3463, 612, 44), T('406', 3605, 553, 44),
  T('MoS{sub|2}', 2877, 862, 53, Lf),
  // (d) bottom
  T('Si', 2950, 1601, 44), T('Si', 3075, 1256, 44), T('1 nm sulfurised', 3487, 1249, 53),
  T('\u03bb=532 nm', 3957, 1458, 52, R), T('G', 3487, 1436, 46), T('D', 3377, 1479, 46),
  T('Si', 3214, 1585, 44), T('2D', 3944, 1535, 44),
  T('Graphene', 3522, 1644, 53, Lf), T('MoS{sub|2} / Graphene', 3516, 1827, 53, Lf), T('MoS{sub|2}', 3521, 2013, 53, Lf)
];

const chart = echarts.init(document.getElementById('chart'), null, {renderer: 'canvas', width: 4037, height: 2259});
chart.setOption({
  animation: false,
  backgroundColor: '#ffffff',
  textStyle: {fontFamily: FONT},
  grid, xAxis, yAxis, series,
  legend: [legend(namesA, 178, 173, 44, 62), legend(namesB, 438, 1222, 46, 64)],
  graphic: {elements: labels}
});
</script>
</body></html>
